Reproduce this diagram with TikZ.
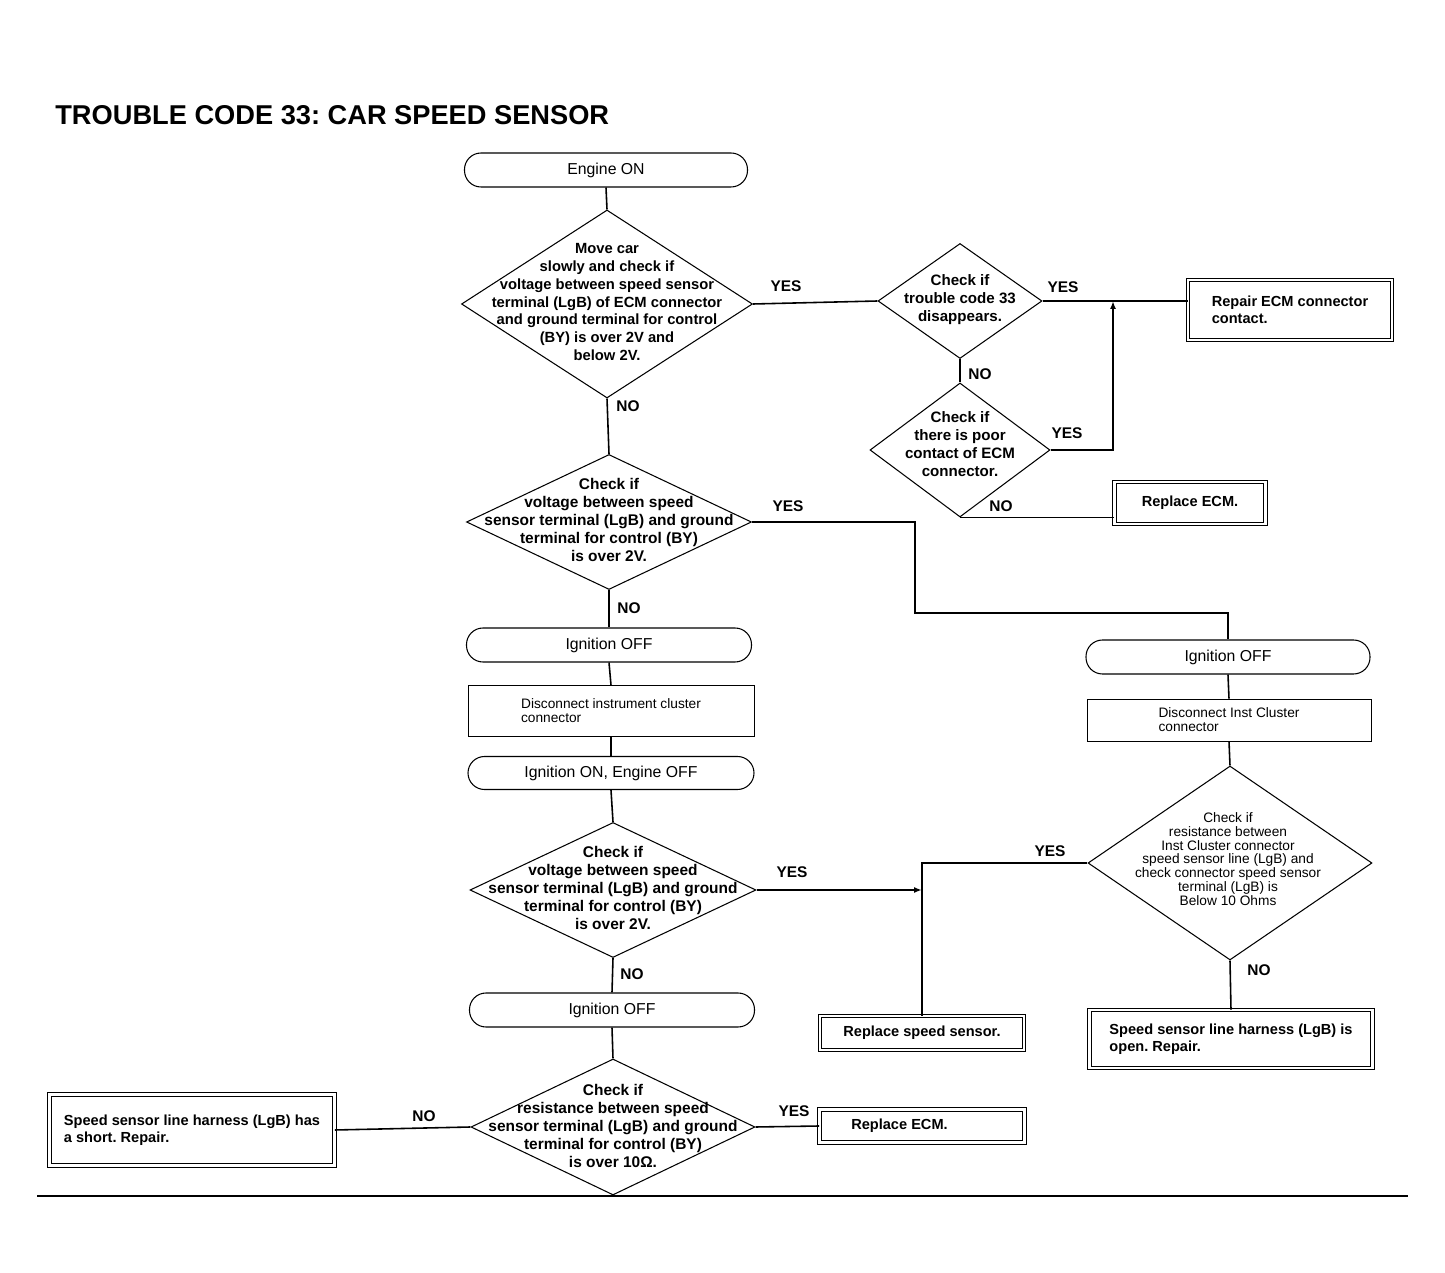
\documentclass[tikz,border=0pt]{standalone}
\usepackage{fontspec}
\setmainfont{Liberation Sans}
\usetikzlibrary{shapes.geometric,arrows.meta}
\frenchspacing
\begin{document}
\begin{tikzpicture}[x=0.02cm,y=-0.02cm,
  sz/.style 2 args={minimum width=#1*0.02cm, minimum height=#2*0.02cm},
  stad/.style={draw, line width=0.6pt, rounded corners=0.33cm, inner sep=0pt, font=\fontsize{9}{10}\selectfont},
  rbox/.style={draw, line width=0.5pt, inner sep=0pt, align=left, font=\fontsize{7.8}{8}\selectfont},
  dia/.style={draw, diamond, line width=0.6pt, inner sep=0pt},
  dtext/.style={align=center, inner sep=0pt, font=\fontsize{8.8}{10.2}\selectfont\bfseries},
  dsmall/.style={align=center, inner sep=0pt, font=\fontsize{7.8}{7.9}\selectfont},
  ebox/.style={draw, double, double distance=1.6pt, line width=0.5pt, inner sep=0pt, align=left, font=\fontsize{8.3}{9.8}\selectfont\bfseries},
  lab/.style={inner sep=0pt, font=\fontsize{8.8}{10}\selectfont\bfseries},
  conn/.style={line width=0.9pt},
  arr/.style={conn, -{Latex[length=0.16cm,width=0.12cm]}}
]
\useasboundingbox (0,0) rectangle (1445,1273);

% title
\node[anchor=west, inner sep=0pt, font=\fontsize{15.5}{17}\selectfont\bfseries] (title) at (55,115) {TROUBLE CODE 33: CAR SPEED SENSOR};

% main column
\node[stad, sz={283}{34}] (start) at (606,170) {Engine ON};
\node[dia, sz={291}{188}] (d1) at (607,304) {};
\node[dtext, font=\fontsize{8.4}{10.2}\selectfont\bfseries] (d1t) at (607,302) {Move car\\slowly and check if\\voltage between speed sensor\\terminal (LgB) of ECM connector\\and ground terminal for control\\(BY) is over 2V and\\below 2V.};

\node[dia, sz={285}{135}] (d4) at (609,522) {};
\node[dtext] (d4t) at (609,520) {Check if\\voltage between speed\\sensor terminal (LgB) and ground\\terminal for control (BY)\\is over 2V.};

\node[stad, sz={285}{34}] (b1) at (609,645) {Ignition OFF};
\node[rbox, sz={286}{51}] (b2) at (611,711) {Disconnect instrument cluster\\connector};
\node[stad, sz={286}{33}] (b3) at (611,773) {Ignition ON, Engine OFF};

\node[dia, sz={286}{135}] (d5) at (613,890) {};
\node[dtext] (d5t) at (613,888) {Check if\\voltage between speed\\sensor terminal (LgB) and ground\\terminal for control (BY)\\is over 2V.};

\node[stad, sz={285}{34}] (b4) at (612,1010) {Ignition OFF};

\node[dia, sz={284}{136}] (d7) at (613,1127) {};
\node[dtext] (d7t) at (613,1126) {Check if\\resistance between speed\\sensor terminal (LgB) and ground\\terminal for control (BY)\\is over 10Ω.};

\node[ebox, sz={205}{33}] (r4) at (922,1126) {Replace ECM.\hspace*{0.9cm}};
\node[ebox, sz={285}{71}] (r5) at (192,1130) {Speed sensor line harness (LgB) has\\a short. Repair.};

% upper right
\node[dia, sz={164}{115}] (d2) at (960,301) {};
\node[dtext, font=\fontsize{8.6}{10.2}\selectfont\bfseries] (d2t) at (960,300) {Check if\\trouble code 33\\disappears.};
\node[ebox, sz={204}{60}] (r1) at (1290,310) {Repair ECM connector\\contact.};

\node[dia, sz={180}{134}] (d3) at (960,450) {};
\node[dtext, font=\fontsize{8.6}{10.2}\selectfont\bfseries] (d3t) at (960,444) {Check if\\there is poor\\contact of ECM\\connector.};
\node[ebox, sz={151}{42}] (r2) at (1190,503) {Replace ECM.};

% right column
\node[stad, sz={284}{34}] (b5) at (1228,657) {Ignition OFF};
\node[rbox, sz={284}{42}] (b6) at (1229,720) {Disconnect Inst Cluster\\connector};
\node[dia, sz={284}{194}] (d6) at (1230,863) {};
\node[dsmall] (d6t) at (1228,859) {Check if\\resistance between\\Inst Cluster connector\\speed sensor line (LgB) and\\check connector speed sensor\\terminal (LgB) is\\Below 10 Ohms};
\node[ebox, sz={283}{58}] (r6) at (1231,1039) {Speed sensor line harness (LgB) is\\open. Repair.};
\node[ebox, sz={204}{34}] (r3) at (922,1033) {Replace speed sensor.};

% junction coordinates
\coordinate (jA) at (915,613);
\coordinate (jB) at (1113,301);
\coordinate (jC) at (r3.north |- d5.east);

% connectors
\draw[conn] (start.south) -- (d1.north);
\draw[conn] (d1.south) -- (d4.north);
\draw[conn] (d1.east) -- (d2.west);
\draw[conn] (d2.east) -- (d2.east -| r1.west);
\draw[conn] (d2.south) -- (d3.north);
\draw[arr] (d3.east) -| (jB);
\draw[conn] (d3.south) -- (d3.south -| r2.west);
\draw[conn] (d4.east) -| (jA) -| (b5.north);
\draw[conn] (d4.south) -- (b1.north);
\draw[conn] (b1.south) -- (b2.north);
\draw[conn] (b2.south) -- (b3.north);
\draw[conn] (b3.south) -- (d5.north);
\draw[arr] (d5.east) -- (jC);
\draw[conn] (d6.west) -| (r3.north);
\draw[conn] (d5.south) -- (b4.north);
\draw[conn] (b4.south) -- (d7.north);
\draw[conn] (d7.east) -- (r4.west);
\draw[conn] (d7.west) -- (r5.east);
\draw[conn] (b5.south) -- (b6.north);
\draw[conn] (b6.south) -- (d6.north);
\draw[conn] (d6.south) -- (r6.north);

% labels
\node[lab] (l1) at (786,286) {YES};
\node[lab] (l2) at (628,406) {NO};
\node[lab] (l3) at (1063,287) {YES};
\node[lab] (l4) at (980,374) {NO};
\node[lab] (l5) at (1067,433) {YES};
\node[lab] (l6) at (1001,506) {NO};
\node[lab] (l7) at (788,506) {YES};
\node[lab] (l8) at (629,608) {NO};
\node[lab] (l9) at (792,872) {YES};
\node[lab] (l10) at (632,974) {NO};
\node[lab] (l11) at (1050,851) {YES};
\node[lab] (l12) at (1259,970) {NO};
\node[lab] (l13) at (794,1111) {YES};
\node[lab] (l14) at (424,1116) {NO};

% bottom rule
\draw[line width=0.6pt] (37,1196) -- (1408,1196);
\end{tikzpicture}
\end{document}
